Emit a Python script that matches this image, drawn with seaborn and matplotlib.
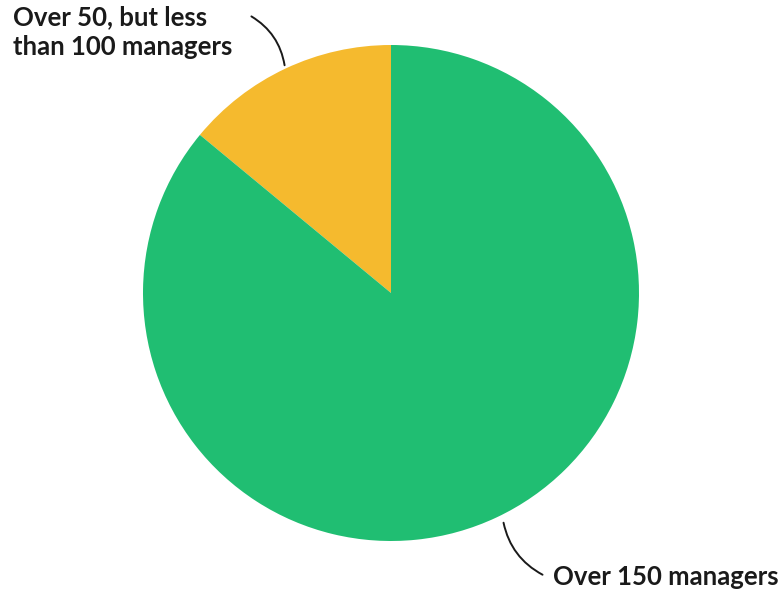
import matplotlib
matplotlib.use("Agg")
from matplotlib import pyplot as plt
import seaborn as sns

# share of respondents by number of managers
labels = ["Over 50, but less\nthan 100 managers", "Over 150 managers"]
shares = [14, 86]
colors = ["#F5BA2E", "#20BE72"]

sns.set_theme(style="white")
plt.rcParams["font.family"] = ["Lato", "DejaVu Sans"]

W, H = 780, 591
fig = plt.figure(figsize=(W / 100, H / 100), dpi=100)
fig.patch.set_facecolor("white")

# pie centre (391, 293) px from top-left, radius 248 px
cx, cy, r = 391, 293, 248
ax = fig.add_axes([(cx - r) / W, (H - cy - r) / H, 2 * r / W, 2 * r / H])
ax.pie(shares, colors=colors, startangle=90, counterclock=True,
       wedgeprops=dict(linewidth=0))
ax.set_xlim(-1, 1)
ax.set_ylim(-1, 1)
ax.set_aspect("equal")
ax.axis("off")

# labels with curved leader lines (figure pixel coords, y up)
fig.text(13, H - 5, labels[0], fontsize=18.5, fontweight="bold",
         color="#1a1a1a", ha="left", va="top", linespacing=1.3,
         transform=None)
ax.annotate("", xy=(285, H - 68), xycoords="figure pixels",
            xytext=(249, H - 15), textcoords="figure pixels",
            arrowprops=dict(arrowstyle="-", color="#1a1a1a", lw=1.4,
                            connectionstyle="arc3,rad=-0.25"))

fig.text(553, H - 577, labels[1], fontsize=18.5, fontweight="bold",
         color="#1a1a1a", ha="left", va="center", transform=None)
ax.annotate("", xy=(545, H - 576), xycoords="figure pixels",
            xytext=(503, H - 520), textcoords="figure pixels",
            arrowprops=dict(arrowstyle="-", color="#1a1a1a", lw=1.4,
                            connectionstyle="arc3,rad=0.25"))

fig.savefig("out.png", dpi=100, facecolor="white")
